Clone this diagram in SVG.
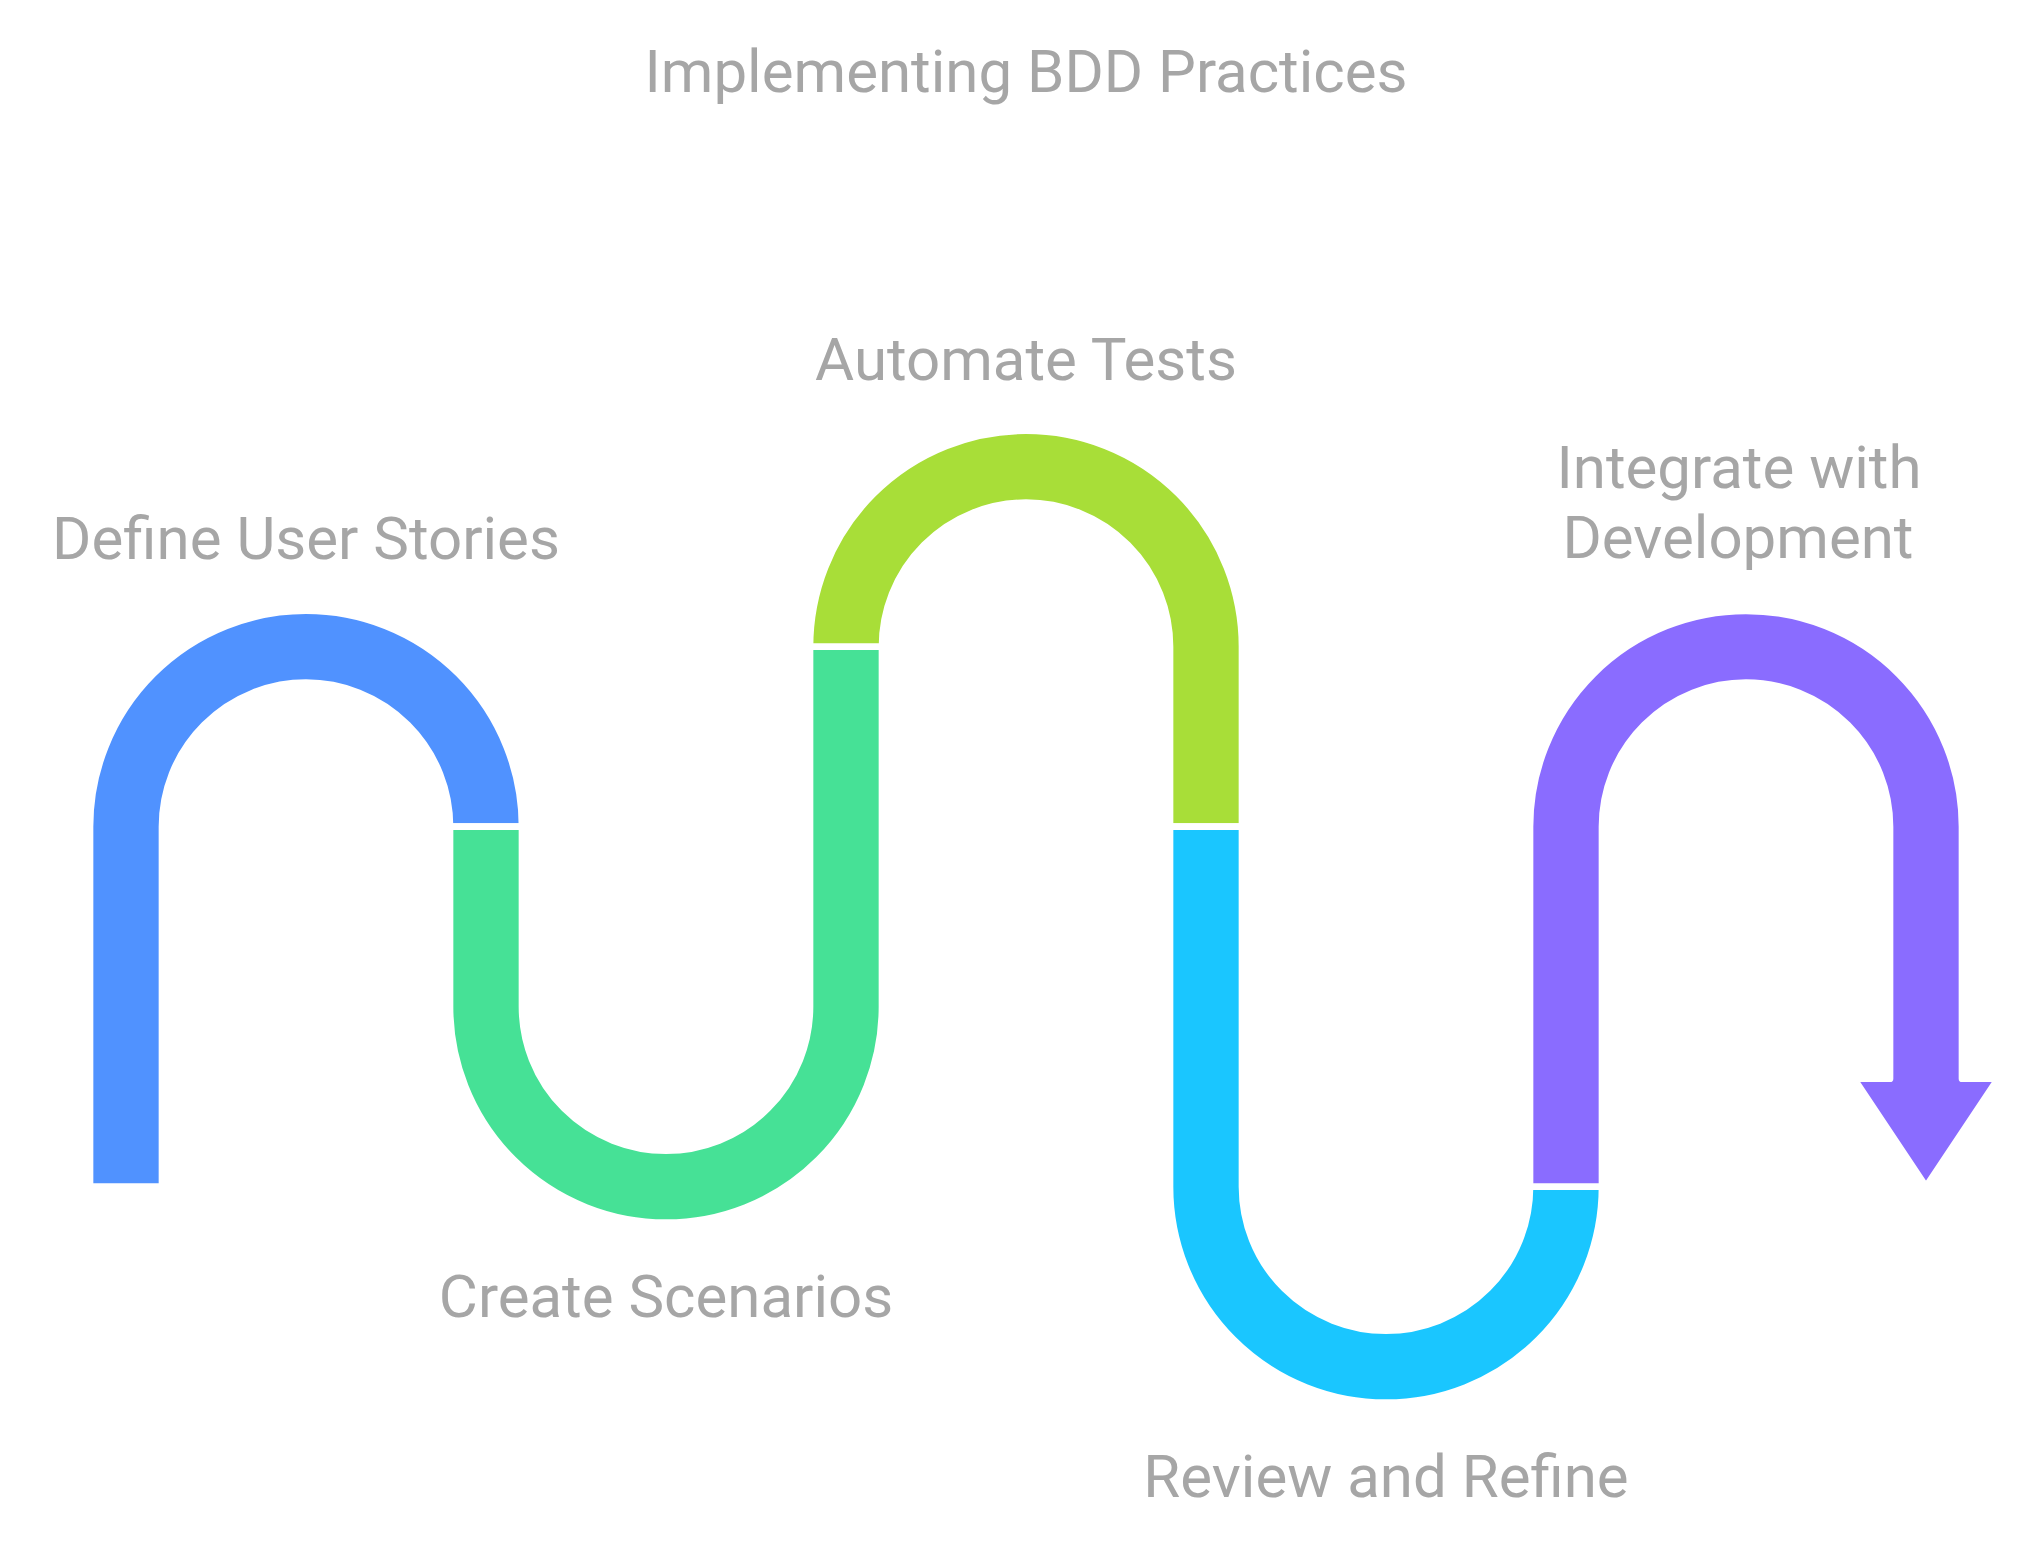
<svg xmlns="http://www.w3.org/2000/svg" width="2037" height="1548" viewBox="0 0 2037 1548">
  <style>
    .seg { stroke: #ffffff; stroke-width: 6.67; stroke-linejoin: round; }
    .lbl { font-family: Roboto, "Liberation Sans", sans-serif; font-size: 60px; fill: #a6a6a6; text-anchor: middle; }
  </style>
  <rect width="2037" height="1548" fill="#ffffff"/>

  <text class="lbl" x="1026" y="92">Implementing BDD Practices</text>

  <!-- Step 1: rising arch -->
  <g id="step-define-user-stories">
    <path class="seg" fill="#5092ff" d="M90,1186.67 V826.67 A216,216 0 0 1 522,826.67 H450 A144,144 0 0 0 162,826.67 V1186.67 Z"/>
    <text class="lbl" x="306" y="559">Define User Stories</text>
  </g>

  <!-- Step 2: valley -->
  <g id="step-create-scenarios">
    <path class="seg" fill="#46e196" d="M450,826.67 V1006.67 A216,216 0 0 0 882,1006.67 V646.67 H810 V1006.67 A144,144 0 0 1 522,1006.67 V826.67 Z"/>
    <text class="lbl" x="666" y="1317">Create Scenarios</text>
  </g>

  <!-- Step 3: high arch -->
  <g id="step-automate-tests">
    <path class="seg" fill="#a8de38" d="M810,646.67 A216,216 0 0 1 1242,646.67 V826.67 H1170 V646.67 A144,144 0 0 0 882,646.67 Z"/>
    <text class="lbl" x="1026" y="380">Automate Tests</text>
  </g>

  <!-- Step 4: deep valley -->
  <g id="step-review-and-refine">
    <path class="seg" fill="#1ac6ff" d="M1170,826.67 V1186.67 A216,216 0 0 0 1602,1186.67 H1530 A144,144 0 0 1 1242,1186.67 V826.67 Z"/>
    <text class="lbl" x="1386" y="1497">Review and Refine</text>
  </g>

  <!-- Step 5: arch ending in the arrowhead -->
  <g id="step-integrate-with-development">
    <path class="seg" fill="#8a6cff" d="M1530,1186.67 V826.67 A216,216 0 0 1 1962,826.67 V1078.67 H1998 L1926,1186.67 L1854,1078.67 H1890 V826.67 A144,144 0 0 0 1602,826.67 V1186.67 Z"/>
    <text class="lbl" y="488"><tspan x="1739">Integrate with</tspan><tspan x="1738" y="558">Development</tspan></text>
  </g>
</svg>
